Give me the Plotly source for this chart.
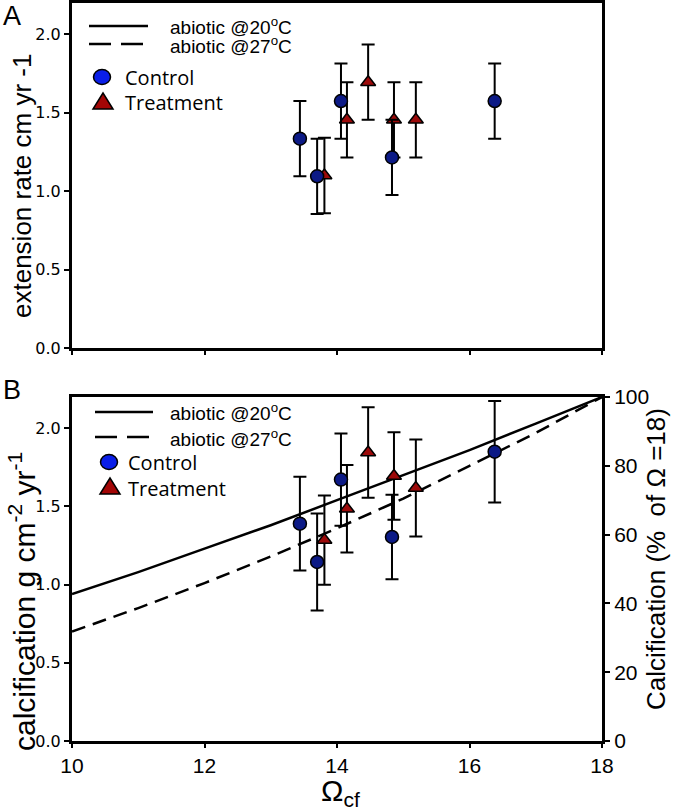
import plotly.graph_objects as go

# ---------------- data ----------------
omega_ctrl = [13.44, 13.70, 14.06, 14.83, 16.38]
ext_ctrl = [1.335, 1.095, 1.575, 1.215, 1.575]
ext_ctrl_err = [0.24, 0.24, 0.24, 0.24, 0.24]

omega_trt = [13.81, 14.15, 14.47, 14.86, 15.19]
ext_trt = [1.10, 1.455, 1.695, 1.455, 1.455]
ext_trt_err = [0.24, 0.24, 0.24, 0.24, 0.24]

calc_ctrl = [1.39, 1.145, 1.672, 1.305, 1.85]
calc_ctrl_err = [0.30, 0.31, 0.295, 0.27, 0.325]

calc_trt = [1.285, 1.485, 1.845, 1.695, 1.618]
calc_trt_err = [0.285, 0.28, 0.29, 0.28, 0.31]

omega_line = [10, 11, 12, 13, 14, 15, 16, 17, 18]
abiotic20 = [0.94, 1.08, 1.23, 1.38, 1.54, 1.70, 1.86, 2.03, 2.20]
abiotic27 = [0.70, 0.85, 1.01, 1.18, 1.36, 1.55, 1.76, 1.97, 2.20]

x_ticks = [10, 12, 14, 16, 18]
y_ticks = [0.0, 0.5, 1.0, 1.5, 2.0]
pct_ticks = [0, 20, 40, 60, 80, 100]

# ---------------- styling ----------------
W, H = 674, 812
L, R, T, B = 72, 602, 3, 741
NAVY = "#0c1a86"
RED = "#9c0a0a"
LEG_BLUE = "#0a1ee8"
LEG_RED = "#a30606"
NARROW = "Liberation Sans Narrow, Arial Narrow, Liberation Sans, Arial, sans-serif"
ARIAL = "Liberation Sans, Arial, sans-serif"
SEGOE = "Open Sans, Segoe UI, sans-serif"


def pxx(xp):
    return (xp - L) / (R - L)


def pxy(yp):
    return (B - yp) / (B - T)


fig = go.Figure()

# ---- Panel A ----
fig.add_trace(go.Scatter(
    x=omega_trt, y=ext_trt, mode="markers", xaxis="x", yaxis="y", showlegend=False,
    marker=dict(symbol="triangle-up", size=13, color=RED, line=dict(color="black", width=1.5)),
    error_y=dict(type="data", array=ext_trt_err, color="black", thickness=2, width=6.5)))
fig.add_trace(go.Scatter(
    x=omega_ctrl, y=ext_ctrl, mode="markers", xaxis="x", yaxis="y", showlegend=False,
    marker=dict(symbol="circle", size=13, color=NAVY, line=dict(color="black", width=1.5)),
    error_y=dict(type="data", array=ext_ctrl_err, color="black", thickness=2, width=6.5)))

# ---- Panel B ----
fig.add_trace(go.Scatter(
    x=omega_line, y=abiotic20, mode="lines", xaxis="x2", yaxis="y2", showlegend=False,
    line=dict(color="black", width=2.5)))
fig.add_trace(go.Scatter(
    x=omega_line, y=abiotic27, mode="lines", xaxis="x2", yaxis="y2", showlegend=False,
    line=dict(color="black", width=2.5, dash="14px,8px")))
fig.add_trace(go.Scatter(
    x=omega_trt, y=calc_trt, mode="markers", xaxis="x2", yaxis="y2", showlegend=False,
    marker=dict(symbol="triangle-up", size=13, color=RED, line=dict(color="black", width=1.5)),
    error_y=dict(type="data", array=calc_trt_err, color="black", thickness=2, width=6.5)))
fig.add_trace(go.Scatter(
    x=omega_ctrl, y=calc_ctrl, mode="markers", xaxis="x2", yaxis="y2", showlegend=False,
    marker=dict(symbol="circle", size=13, color=NAVY, line=dict(color="black", width=1.5)),
    error_y=dict(type="data", array=calc_ctrl_err, color="black", thickness=2, width=6.5)))
# invisible trace to activate the right-hand axis
fig.add_trace(go.Scatter(x=[None], y=[None], xaxis="x2", yaxis="y3", showlegend=False))

axis_common = dict(showgrid=False, zeroline=False, showline=True, linecolor="black",
                   linewidth=3, ticks="outside", ticklen=5, tickwidth=2, tickcolor="black",
                   automargin=False)

top_dom = [pxy(348), 1.0]
bot_dom = [0.0, pxy(397)]

LEFT_TICK_FONT = dict(family="DejaVu Sans, sans-serif", size=16, color="black")
NARROW_TICK_FONT = dict(family=NARROW, size=21, color="black")

fig.update_layout(
    width=W, height=H,
    margin=dict(l=L, r=W - R, t=T, b=H - B, autoexpand=False),
    paper_bgcolor="white", plot_bgcolor="white",
    showlegend=False,
    xaxis=dict(axis_common, domain=[0, 1], anchor="y", range=[10, 18], tickvals=x_ticks,
               showticklabels=False, mirror=True, ticklen=4),
    yaxis=dict(axis_common, domain=top_dom, anchor="x", range=[0, 2.2], tickvals=y_ticks,
               tickformat=".1f", mirror=True, tickfont=LEFT_TICK_FONT),
    xaxis2=dict(axis_common, domain=[0, 1], anchor="y2", range=[10, 18], tickvals=x_ticks,
                mirror=True, ticklen=4, tickfont=NARROW_TICK_FONT),
    yaxis2=dict(axis_common, domain=bot_dom, anchor="x2", range=[0, 2.2], tickvals=y_ticks,
                tickformat=".1f", mirror=True, tickfont=LEFT_TICK_FONT),
    yaxis3=dict(axis_common, overlaying="y2", side="right", anchor="x2", range=[0, 100],
                tickvals=pct_ticks, tickfont=NARROW_TICK_FONT),
)

shapes = []
annotations = []


def text_ann(xp, yp, txt, size, family, xanchor="center", angle=0):
    annotations.append(dict(xref="paper", yref="paper", x=pxx(xp), y=pxy(yp),
                            xanchor=xanchor, yanchor="middle", showarrow=False, text=txt,
                            textangle=angle,
                            font=dict(family=family, size=size, color="black")))


def legend_block(y_solid, y_dash, x0, x1, y_circ, y_tri, xm, xt):
    shapes.append(dict(type="line", xref="paper", yref="paper", x0=pxx(x0), x1=pxx(x1),
                       y0=pxy(y_solid), y1=pxy(y_solid), line=dict(color="black", width=2.5)))
    shapes.append(dict(type="line", xref="paper", yref="paper", x0=pxx(x0), x1=pxx(x1),
                       y0=pxy(y_dash), y1=pxy(y_dash),
                       line=dict(color="black", width=2.5, dash="22px,10px")))
    shapes.append(dict(type="circle", xref="paper", yref="paper", xsizemode="pixel",
                       ysizemode="pixel", xanchor=pxx(xm), yanchor=pxy(y_circ),
                       x0=-8.5, x1=8.5, y0=-7.5, y1=7.5, fillcolor=LEG_BLUE,
                       line=dict(color="black", width=1.5)))
    shapes.append(dict(type="path", xref="paper", yref="paper", xsizemode="pixel",
                       ysizemode="pixel", xanchor=pxx(xm + 1), yanchor=pxy(y_tri),
                       path="M-10,-7 L10,-7 L0,9 Z", fillcolor=LEG_RED,
                       line=dict(color="black", width=1.5)))
    text_ann(168, y_solid, "abiotic @20<sup>o</sup>C", 19, ARIAL, xanchor="left")
    text_ann(168, y_dash + 1, "abiotic @27<sup>o</sup>C", 19, ARIAL, xanchor="left")
    text_ann(xt, y_circ, "Control", 20, SEGOE, xanchor="left")
    text_ann(xt, y_tri + 1, "Treatment", 20, SEGOE, xanchor="left")


legend_block(26, 44, 89, 148, 77, 102, 102, 123)
legend_block(412, 437, 95, 153, 462, 487, 109, 126)

# panel labels
text_ann(12, 16, "A", 27, ARIAL)
text_ann(12, 390, "B", 27, ARIAL)

# axis titles
text_ann(22, 186, "extension rate cm yr -1", 26, ARIAL, angle=-90)
text_ann(22, 602, "calcification g cm<sup>-2</sup> yr<sup>-1</sup>", 30, ARIAL, angle=-90)
text_ann(656, 559, "Calcification (%  of Ω =18)", 26, ARIAL, angle=-90)
text_ann(340, 792, "Ω<sub>cf</sub>", 30, ARIAL)

fig.update_layout(shapes=shapes, annotations=annotations)

fig.write_html("out.html", config={"displayModeBar": False},
               post_script="document.body.style.margin='0px';document.body.style.overflow='hidden';")
